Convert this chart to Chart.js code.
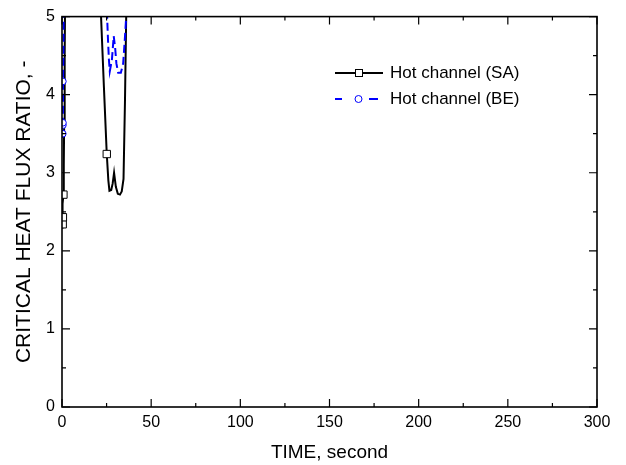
<!DOCTYPE html>
<html>
<head>
<meta charset="utf-8">
<script src="https://cdn.jsdelivr.net/npm/chart.js@4/dist/chart.umd.min.js"></script>
<style>
html,body{margin:0;padding:0;background:#fff;}
#wrap{width:626px;height:465px;position:relative;}
</style>
</head>
<body>
<div id="wrap"><canvas id="c" width="626" height="465"></canvas></div>
<script>
// ---- data ----
const xTicks = [0, 50, 100, 150, 200, 250, 300];
const yTicks = [0, 1, 2, 3, 4, 5];
const seriesNames = ["Hot channel (SA)", "Hot channel (BE)"];

// Hot channel (SA): time (s) and CHFR (values above 5 are off the plotted range)
const saTime = [0, 0.15, 0.3, 0.5, 0.8, 1.0, 1.2, 1.5, 2, 20, 21.9, 23.5, 25.1, 26.0, 26.6, 27.6, 28.4, 29.2, 30.2, 31.3, 32.5, 33.5, 34.5, 35.3, 36.0, 37, 300];
const saChfr = [2.3, 2.37, 2.43, 2.6, 2.72, 3.1, 3.6, 4.5, 6, 6, 5.0, 4.1, 3.24, 2.9, 2.77, 2.78, 2.86, 3.0, 2.82, 2.73, 2.72, 2.76, 2.92, 3.9, 5.0, 6, 6];
const saMarkTime = [0.4, 0.5, 0.8, 25.1];
const saMarkChfr = [2.34, 2.43, 2.72, 3.24];

// Hot channel (BE)
const beTime = [0.2, 0.3, 0.4, 0.45, 0.5, 0.55, 0.6, 0.8, 1.2, 24, 25.3, 25.8, 26.3, 26.8, 28.0, 29.0, 29.8, 30.5, 31.5, 33.0, 34.3, 35.2, 36.0, 37, 300];
const beChfr = [3.45, 3.5, 3.55, 3.61, 3.64, 3.9, 4.17, 4.6, 6, 6, 5.0, 4.7, 4.45, 4.3, 4.45, 4.75, 4.6, 4.4, 4.28, 4.28, 4.4, 4.7, 5.0, 6, 6];
const beMarkTime = [0.45, 0.5, 0.55, 0.5];
const beMarkChfr = [3.5, 3.61, 3.64, 4.17];

const pts = (t, v) => t.map((x, i) => ({x: x, y: v[i]}));
const FONT = "'Liberation Sans', Arial, sans-serif";

const frame = {
  id: 'frame',
  afterDatasetsDraw(chart) {
    const {ctx, chartArea: {left, right, top, bottom}, scales: {x, y}} = chart;
    ctx.save();
    ctx.strokeStyle = '#000';
    ctx.lineWidth = 1.6;
    ctx.strokeRect(left, top, right - left, bottom - top);
    ctx.lineWidth = 1.2;
    ctx.beginPath();
    for (let v = 0; v <= 300; v += 25) {
      const px = x.getPixelForValue(v);
      const L = (v % 50 === 0) ? 8 : 4;
      ctx.moveTo(px, bottom); ctx.lineTo(px, bottom - L);
      ctx.moveTo(px, top); ctx.lineTo(px, top + L);
    }
    for (let v = 0; v <= 5.001; v += 0.5) {
      const py = y.getPixelForValue(v);
      const L = (Math.abs(v - Math.round(v)) < 1e-6) ? 8 : 4;
      ctx.moveTo(left, py); ctx.lineTo(left + L, py);
      ctx.moveTo(right, py); ctx.lineTo(right - L, py);
    }
    ctx.stroke();
    ctx.restore();
  },
  afterDraw(chart) {
    const ctx = chart.ctx;
    ctx.save();
    // SA legend row
    let yy = 73;
    ctx.strokeStyle = '#000'; ctx.lineWidth = 2; ctx.setLineDash([]);
    ctx.beginPath(); ctx.moveTo(335, yy); ctx.lineTo(383, yy); ctx.stroke();
    ctx.fillStyle = '#fff'; ctx.lineWidth = 1;
    ctx.fillRect(355.5, yy - 3.5, 7, 7); ctx.strokeRect(355.5, yy - 3.5, 7, 7);
    ctx.fillStyle = '#000'; ctx.font = '17px ' + FONT; ctx.textBaseline = 'middle'; ctx.textAlign = 'left';
    ctx.fillText(seriesNames[0], 390, yy);
    // BE legend row
    yy = 99;
    ctx.strokeStyle = '#0000ff'; ctx.lineWidth = 2;
    ctx.beginPath(); ctx.moveTo(335, yy); ctx.lineTo(342, yy); ctx.moveTo(369, yy); ctx.lineTo(378, yy); ctx.stroke();
    ctx.lineWidth = 1; ctx.fillStyle = '#fff';
    ctx.beginPath(); ctx.arc(358.5, yy, 3.5, 0, Math.PI * 2); ctx.fill(); ctx.stroke();
    ctx.fillStyle = '#000';
    ctx.fillText(seriesNames[1], 390, yy);
    ctx.restore();
  }
};

new Chart(document.getElementById('c'), {
  type: 'line',
  data: {
    datasets: [
      {label: 'SA markers', data: pts(saMarkTime, saMarkChfr), showLine: false, pointStyle: 'rect', pointRadius: 5.2, pointBackgroundColor: '#fff', pointBorderColor: '#000', pointBorderWidth: 1, order: 0},
      {label: 'BE markers', data: pts(beMarkTime, beMarkChfr), showLine: false, pointStyle: 'circle', pointRadius: 3.3, pointBackgroundColor: '#fff', pointBorderColor: '#0000ff', pointBorderWidth: 1, order: 0},
      {label: seriesNames[1], data: pts(beTime, beChfr), borderColor: '#0000ff', borderWidth: 2, borderDash: [8, 4], pointRadius: 0, tension: 0, order: 1},
      {label: seriesNames[0], data: pts(saTime, saChfr), borderColor: '#000', borderWidth: 2, pointRadius: 0, tension: 0, order: 2}
    ]
  },
  options: {
    responsive: false,
    animation: false,
    devicePixelRatio: 1,
    layout: {padding: {top: 15, right: 29, left: 0, bottom: 0}},
    plugins: {legend: {display: false}, tooltip: {enabled: false}},
    scales: {
      x: {
        type: 'linear', min: 0, max: 300,
        afterBuildTicks: s => { s.ticks = xTicks.map(v => ({value: v})); },
        afterFit: s => { s.height = 58; },
        grid: {display: false, drawTicks: false},
        border: {display: false},
        ticks: {color: '#000', font: {family: FONT, size: 16}, padding: 6, maxRotation: 0},
        title: {display: true, text: 'TIME, second', color: '#000', font: {family: FONT, size: 19}, padding: {top: 0, bottom: 1}}
      },
      y: {
        type: 'linear', min: 0, max: 5,
        afterBuildTicks: s => { s.ticks = yTicks.map(v => ({value: v})); },
        afterFit: s => { s.width = 62; },
        grid: {display: false, drawTicks: false},
        border: {display: false},
        ticks: {color: '#000', font: {family: FONT, size: 16}, padding: 7},
        title: {display: true, text: 'CRITICAL HEAT FLUX RATIO, -', color: '#000', font: {family: FONT, size: 21}, padding: {top: 12, bottom: 0}}
      }
    }
  },
  plugins: [frame]
});
</script>
</body>
</html>
